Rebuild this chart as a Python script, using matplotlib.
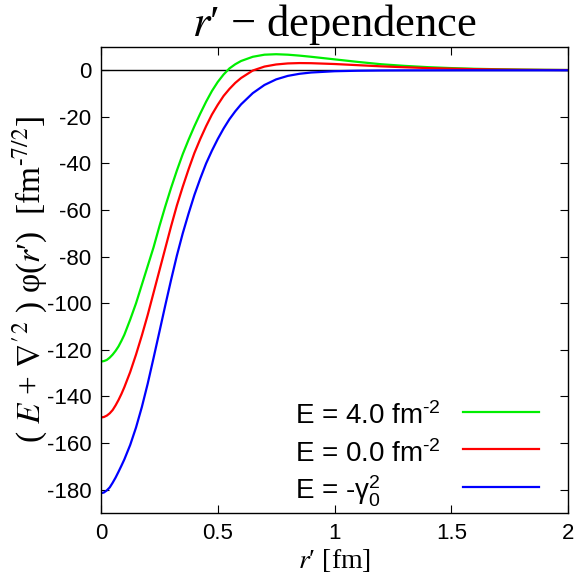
import matplotlib
matplotlib.use('Agg')
import matplotlib.pyplot as plt

# r' grid [fm] and (E + nabla'^2) phi(r') values
r = [0.0, 0.0125, 0.025, 0.0375, 0.05, 0.0625, 0.075, 0.0875, 0.1, 0.125, 0.15, 0.175,
     0.2, 0.225, 0.25, 0.275, 0.3, 0.325, 0.35, 0.375, 0.4, 0.425, 0.45, 0.475,
     0.5, 0.525, 0.55, 0.575, 0.6, 0.65, 0.7, 0.75, 0.8, 0.85, 0.9, 1.0, 1.1,
     1.2, 1.3, 1.4, 1.5, 1.6, 1.7, 1.8, 1.9, 2.0]

e_pos = [-125.0, -124.8, -124.3, -123.3, -122.0, -120.4, -118.5, -116.1, -113.5, -107.0, -100.0, -92.0,
         -84.0, -76.0, -67.0, -58.5, -50.5, -43.0, -36.0, -29.8, -24.0, -18.6, -13.5, -8.9,
         -5.0, -1.8, 0.8, 2.6, 4.0, 5.8, 6.7, 6.9, 6.7, 6.3, 5.8, 4.7, 3.6,
         2.6, 1.9, 1.35, 0.95, 0.65, 0.45, 0.3, 0.2, 0.13]

e_zero = [-149.0, -148.8, -148.2, -147.2, -145.8, -143.8, -141.5, -138.9, -136.0, -129.5, -122.0, -113.8,
          -105.0, -95.5, -86.0, -76.5, -67.0, -58.0, -50.0, -42.5, -35.5, -29.5, -24.0, -19.0,
          -14.8, -11.0, -8.0, -5.4, -3.3, -0.1, 1.6, 2.5, 2.95, 3.1, 3.05, 2.7, 2.2,
          1.7, 1.3, 0.95, 0.7, 0.5, 0.35, 0.25, 0.17, 0.12]

e_bound = [-181.5, -181.2, -180.3, -179.0, -177.0, -174.8, -172.3, -169.7, -167.0, -160.8, -153.3, -144.5,
           -134.5, -123.5, -112.3, -101.0, -90.0, -79.5, -70.0, -61.5, -53.5, -46.5, -40.0, -34.5,
           -29.5, -25.0, -21.0, -17.6, -14.6, -9.8, -6.3, -3.9, -2.4, -1.5, -0.95, -0.4, -0.18,
           -0.08, -0.04, -0.02, -0.01, 0.0, 0.0, 0.0, 0.0, 0.0]

labels = [r'E = 4.0 fm$^{\text{-2}}$', r'E = 0.0 fm$^{\text{-2}}$', r'E = -$\mathrm{\gamma}_0^2$']
colors = ['#00ee00', '#ff0000', '#0000ff']

plt.rcParams['font.family'] = 'Liberation Sans'
plt.rcParams['axes.unicode_minus'] = False
plt.rcParams['mathtext.fontset'] = 'custom'
plt.rcParams['mathtext.rm'] = 'Liberation Sans'
plt.rcParams['mathtext.it'] = 'Liberation Sans:italic'

fig = plt.figure(figsize=(5.81, 5.81), dpi=100)
ax = fig.add_axes([101 / 581, 1 - 513 / 581, 467 / 581, 466 / 581])

ax.axhline(0, color='black', lw=1.0, zorder=1)
lines = []
for ys, c in zip([e_pos, e_zero, e_bound], colors):
    lines += ax.plot(r, ys, color=c, lw=1.6, zorder=2)

ax.set_xlim(0, 2)
ax.set_ylim(-190, 10)
ax.set_xticks([0, 0.5, 1, 1.5, 2])
ax.set_xticklabels(['0', '0.5', '1', '1.5', '2'])
ax.set_yticks(range(-180, 1, 20))
ax.tick_params(direction='in', top=True, right=True, length=6, width=0.8,
               labelsize=16, pad=7)
for s in ax.spines.values():
    s.set_linewidth(1.0)

serif = 'Liberation Serif'
ax.set_title("$r$′ − dependence", family=serif, fontsize=32,
             math_fontfamily='stix', pad=8)
ax.set_xlabel("$r$′ [fm]", family=serif, fontsize=20,
              math_fontfamily='stix', labelpad=2)
ax.set_ylabel(r"( $E$ + $\nabla'^2$ ) φ($r$′)  [fm$^{\text{-7/2}}$]", family=serif,
              fontsize=24, math_fontfamily='stix')
ax.yaxis.label.set_va('center')
ax.yaxis.set_label_coords(-0.152, 0.5)

# gnuplot-style key: text left-aligned, sample line on the right
key_y = [0.217, 0.1365, 0.056]
for ln, lab, y in zip(lines, labels, key_y):
    ax.text(0.415, y - 0.026, lab, transform=ax.transAxes, fontsize=20,
            ha='left', va='baseline')
    ax.plot([0.775, 0.938], [y, y], transform=ax.transAxes, color=ln.get_color(),
            lw=1.6, clip_on=False)

fig.savefig('out.png', dpi=100)
